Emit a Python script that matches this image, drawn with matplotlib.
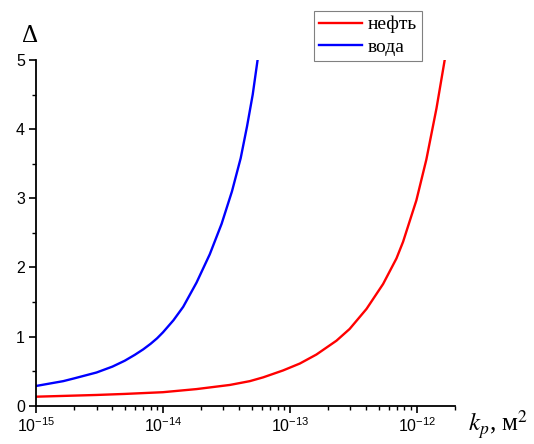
import matplotlib
matplotlib.use('Agg')
import matplotlib.pyplot as plt
from matplotlib.ticker import MultipleLocator, LogLocator, NullFormatter

plt.rcParams['font.family'] = ['Liberation Sans', 'DejaVu Sans']
plt.rcParams['mathtext.fontset'] = 'custom'
plt.rcParams['mathtext.rm'] = 'Liberation Sans'

# значения
kp_oil = [1.0e-15, 3.0e-15, 5.0e-15, 1.0e-14, 1.84e-14, 3.37e-14, 4.84e-14,
          6.17e-14, 8.85e-14, 1.2e-13, 1.62e-13, 2.33e-13, 2.96e-13, 4.02e-13,
          5.43e-13, 6.92e-13, 7.8e-13, 9.93e-13, 1.19e-12, 1.43e-12, 1.66e-12]
delta_oil = [0.13, 0.155, 0.17, 0.195, 0.24, 0.30, 0.355,
             0.41, 0.51, 0.61, 0.74, 0.94, 1.11, 1.40,
             1.76, 2.13, 2.37, 2.97, 3.56, 4.3, 5.0]

kp_water = [1.0e-15, 1.64e-15, 2.0e-15, 3.0e-15, 4.0e-15, 5.0e-15, 6.0e-15,
            7.0e-15, 8.0e-15, 9.0e-15, 1.0e-14, 1.21e-14, 1.445e-14, 1.84e-14,
            2.34e-14, 2.9e-14, 3.5e-14, 4.1e-14, 4.6e-14, 5.1e-14, 5.57e-14]
delta_water = [0.285, 0.355, 0.395, 0.48, 0.565, 0.65, 0.735,
               0.815, 0.895, 0.975, 1.06, 1.235, 1.43, 1.78,
               2.19, 2.63, 3.1, 3.58, 4.04, 4.5, 5.0]

xticks = [1e-15, 1e-14, 1e-13, 1e-12]
xtick_labels = [r'$\mathregular{10^{-15}}$', r'$\mathregular{10^{-14}}$',
                r'$\mathregular{10^{-13}}$', r'$\mathregular{10^{-12}}$']

fig = plt.figure(figsize=(5.34, 4.44), dpi=100)
ax = fig.add_axes([0.0674, 0.0863, 0.7846, 0.7786])

ax.plot(kp_oil, delta_oil, color='#ff0000', lw=1.7, label='нефть')
ax.plot(kp_water, delta_water, color='#0000ff', lw=1.7, label='вода')

ax.set_xscale('log')
ax.set_xlim(1e-15, 2e-12)
ax.set_ylim(0, 5)
ax.set_xticks(xticks)
ax.set_xticklabels(xtick_labels)
ax.xaxis.set_minor_locator(LogLocator(base=10, subs=range(2, 10), numticks=20))
ax.xaxis.set_minor_formatter(NullFormatter())
ax.yaxis.set_major_locator(MultipleLocator(1))
ax.yaxis.set_minor_locator(MultipleLocator(0.5))

for side in ['top', 'right']:
    ax.spines[side].set_visible(False)
for side in ['left', 'bottom']:
    ax.spines[side].set_linewidth(1.3)

ax.tick_params(which='major', direction='out', length=5, width=1.2,
               labelsize=11.5, pad=3)
ax.tick_params(which='minor', direction='out', length=3, width=1.0)

ax.text(-0.015, 1.07, 'Δ', transform=ax.transAxes, ha='center', va='center',
        fontsize=18, family='Liberation Serif')
ax.text(1.03, -0.055, r'$k_p$, м$^2$', transform=ax.transAxes, ha='left',
        va='center', fontsize=18, family='Liberation Serif',
        math_fontfamily='stix')

leg = ax.legend(loc='upper right', bbox_to_anchor=(0.921, 1.142),
                borderaxespad=0, fancybox=False, framealpha=1,
                prop={'family': 'Liberation Serif', 'size': 14},
                handlelength=2.2, handletextpad=0.3, labelspacing=0.25,
                borderpad=0.25)
leg.get_frame().set_edgecolor('#808080')
leg.get_frame().set_linewidth(0.8)

plt.savefig('out.png', dpi=100)
